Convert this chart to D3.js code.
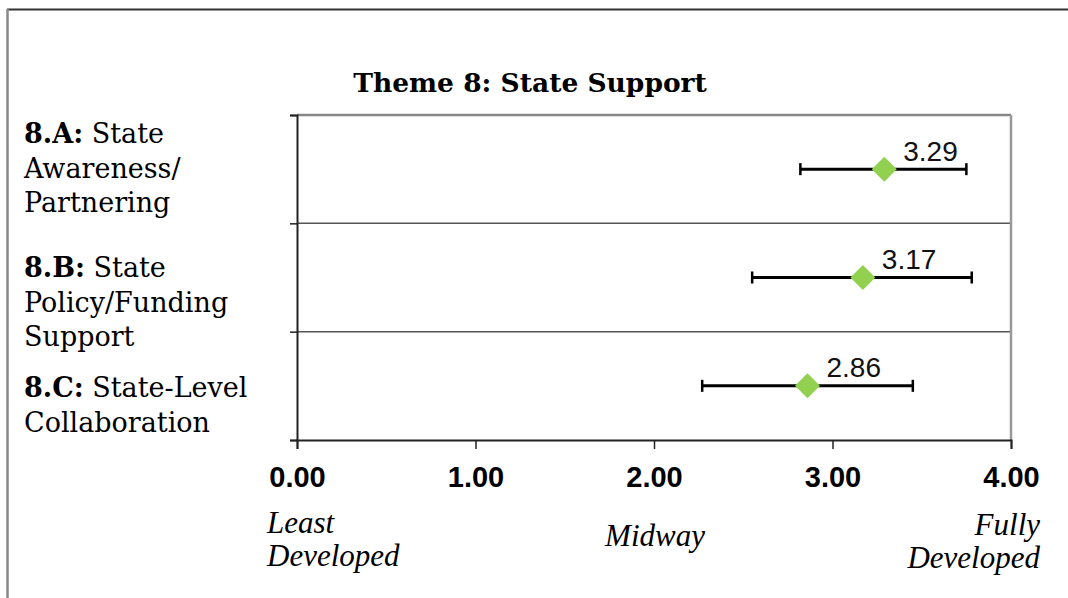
<!DOCTYPE html>
<html>
<head>
<meta charset="utf-8">
<script src="https://cdn.jsdelivr.net/npm/d3@7"></script>
<style>
  body { margin: 0; background: #fff; }
  svg { display: block; }
  .catText { font-family: "DejaVu Serif", serif; font-size: 27px; fill: #000; }
  .valText { font-family: "Liberation Sans", Arial, sans-serif; font-size: 28px; fill: #111; }
  .tickText { font-family: "Liberation Sans", Arial, sans-serif; font-size: 29px; font-weight: bold; }
  .anchorText { font-family: "Liberation Serif", serif; font-style: italic; font-size: 31px; fill: #000; }
</style>
</head>
<body>
<div id="chart"></div>
<script>
// chart data
const title = "Theme 8: State Support";
const categories = ["8.A", "8.B", "8.C"];
const labelLines = [
    ["State", "Awareness/", "Partnering"],
    ["State", "Policy/Funding", "Support"],
    ["State-Level", "Collaboration"]
];
const means = [3.29, 3.17, 2.86];
const lows = [2.82, 2.55, 2.27];
const highs = [3.75, 3.78, 3.45];
const tickValues = [0, 1, 2, 3, 4];
const anchorLabels = [
    { value: 0, lines: ["Least", "Developed"], align: "start" },
    { value: 2, lines: ["Midway"], align: "middle" },
    { value: 4, lines: ["Fully", "Developed"], align: "end" }
];

let svgWidth = 1068;
let svgHeight = 598;

let plot = { left: 297, right: 1011, top: 115, bottom: 440 };

let svg = d3.select("#chart")
    .append("svg")
    .attr("width", svgWidth)
    .attr("height", svgHeight);

// outer frame (top and left edges)
svg.append("line")
    .attr("x1", 7).attr("x2", svgWidth)
    .attr("y1", 9.5).attr("y2", 9.5)
    .attr("stroke", "#333").attr("stroke-width", 2);
svg.append("line")
    .attr("x1", 7.5).attr("x2", 7.5)
    .attr("y1", 9).attr("y2", svgHeight)
    .attr("stroke", "#888").attr("stroke-width", 2.5);

// scales
let x = d3.scaleLinear()
    .domain([0, 4])
    .range([plot.left, plot.right]);

let y = d3.scaleBand()
    .domain(categories)
    .range([plot.top, plot.bottom]);

let rowEdge = d3.scaleLinear()
    .domain([0, categories.length])
    .range([plot.top, plot.bottom]);

// title
svg.append("text")
    .attr("x", 530)
    .attr("y", 92)
    .attr("text-anchor", "middle")
    .style("font-family", "'DejaVu Serif', serif")
    .style("font-weight", "bold")
    .style("font-size", "26.5px")
    .text(title);

// row separators and plot border
svg.selectAll(".rowLine")
    .data(d3.range(0, categories.length))
    .join("line")
    .attr("class", "rowLine")
    .attr("x1", plot.left).attr("x2", plot.right)
    .attr("y1", d => rowEdge(d)).attr("y2", d => rowEdge(d))
    .attr("stroke", d => d === 0 ? "#888" : "#555")
    .attr("stroke-width", d => d === 0 ? 2.5 : 1.5);

svg.append("line")
    .attr("x1", plot.right).attr("x2", plot.right)
    .attr("y1", plot.top).attr("y2", plot.bottom)
    .attr("stroke", "#999").attr("stroke-width", 2.5);

// axes
let leftAxis = d3.axisLeft(rowEdge)
    .tickValues(d3.range(0, categories.length + 1))
    .tickSize(7)
    .tickFormat("");

let bottomAxis = d3.axisBottom(x)
    .tickValues(tickValues)
    .tickSize(9)
    .tickPadding(17)
    .tickFormat(d3.format(".2f"));

svg.append("g")
    .attr("transform", `translate(${plot.left}, 0)`)
    .call(leftAxis)
    .call(g => g.select(".domain").attr("stroke", "#222").attr("stroke-width", 2))
    .call(g => g.selectAll(".tick line").attr("stroke", "#222").attr("stroke-width", 1.5));

svg.append("g")
    .attr("transform", `translate(0, ${plot.bottom})`)
    .call(bottomAxis)
    .call(g => g.select(".domain").attr("stroke", "#222").attr("stroke-width", 2))
    .call(g => g.selectAll(".tick line").attr("stroke", "#222").attr("stroke-width", 1.5))
    .call(g => g.selectAll(".tick text").attr("class", "tickText").attr("fill", "#000"));

// anchor labels under the axis
anchorLabels.forEach(a => {
    let t = svg.append("text")
        .attr("class", "anchorText")
        .attr("text-anchor", a.align);
    let ax = a.align === "start" ? x(a.value) - 30 : a.align === "end" ? x(a.value) + 29 : x(a.value) + 1;
    let ay = a.lines.length === 1 ? 546 : 533;
    a.lines.forEach((line, i) => {
        t.append("tspan")
            .attr("x", ax)
            .attr("y", ay + i * 33 + (a.align === "end" ? 2 : 0))
            .text(line);
    });
});

// category labels
let labelBaselines = [143, 277, 397];
categories.forEach((c, i) => {
    let t = svg.append("text")
        .attr("class", "catText");
    labelLines[i].forEach((line, j) => {
        let span = t.append("tspan")
            .attr("x", 24)
            .attr("y", labelBaselines[i] + j * 34.5);
        if (j === 0) {
            span.append("tspan").style("font-weight", "bold").text(c + ":");
            span.append("tspan").text(" " + line);
        } else {
            span.text(line);
        }
    });
});

// error bars
let rows = categories.map((c, i) => ({ cat: c, mean: means[i], low: lows[i], high: highs[i] }));

let bars = svg.selectAll(".errBar")
    .data(rows)
    .join("g")
    .attr("class", "errBar")
    .attr("transform", d => `translate(0, ${y(d.cat) + y.bandwidth() / 2})`);

bars.append("line")
    .attr("x1", d => x(d.low)).attr("x2", d => x(d.high))
    .attr("stroke", "#000").attr("stroke-width", 3);

bars.selectAll(".cap")
    .data(d => [d.low, d.high])
    .join("line")
    .attr("class", "cap")
    .attr("x1", d => x(d)).attr("x2", d => x(d))
    .attr("y1", -6).attr("y2", 6)
    .attr("stroke", "#000").attr("stroke-width", 2.5);

// mean markers
bars.append("path")
    .attr("d", d3.symbol(d3.symbolSquare, 312)())
    .attr("transform", d => `translate(${x(d.mean)}, 0) rotate(45)`)
    .attr("fill", "#92d050");

bars.append("text")
    .attr("class", "valText")
    .attr("x", d => x(d.mean) + 19)
    .attr("y", -8.5)
    .text(d => d3.format(".2f")(d.mean));
</script>
</body>
</html>
